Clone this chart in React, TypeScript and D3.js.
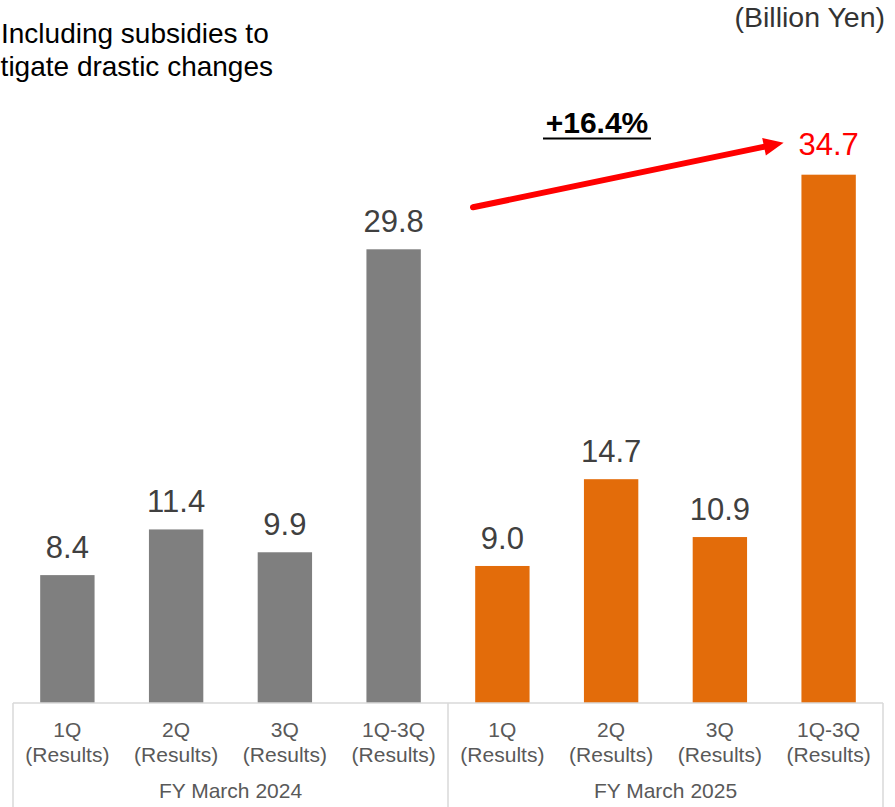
import React from "react";
import * as d3 from "d3";

// Quarterly results, billion yen
const fiscalYears = ["FY March 2024", "FY March 2025"];
const periods = ["1Q", "2Q", "3Q", "1Q-3Q"];
const values2024 = [8.4, 11.4, 9.9, 29.8];
const values2025 = [9.0, 14.7, 10.9, 34.7];
const growthLabel = "+16.4%";
const unitLabel = "(Billion Yen)";
const noteLines = ["Including subsidies to", "mitigate drastic changes"];

const W = 895;
const H = 807;
const FONT = "'Liberation Sans', Arial, Helvetica, sans-serif";

const GRAY = "#7f7f7f";
const ORANGE = "#e36c0a";
const AXIS = "#d9d9d9";

type Row = { key: string; year: string; period: string; value: number; color: string };

const rows: Row[] = [
  ...periods.map((p, i) => ({ key: `a${i}`, year: fiscalYears[0], period: p, value: values2024[i], color: GRAY })),
  ...periods.map((p, i) => ({ key: `b${i}`, year: fiscalYears[1], period: p, value: values2025[i], color: ORANGE })),
];

export default function App() {
  const left = 13;
  const right = 883;
  const baseY = 703;

  const x = d3
    .scaleBand<string>()
    .domain(rows.map((r) => r.key))
    .range([left, right])
    .paddingInner(0.5)
    .paddingOuter(0.25);

  const y = d3.scaleLinear().domain([0, 40]).range([baseY, 94]);

  const step = x.step();
  const groupW = step * periods.length;

  const last = rows[rows.length - 1];
  const lastTotal2024 = rows[periods.length - 1];

  // Growth arrow from the previous year's cumulative bar to this year's
  const ax0 = left + groupW + 25;
  const ay0 = y(lastTotal2024.value) - 42;
  const ax1 = (x(last.key) as number) + x.bandwidth() / 2 - 45;
  const ay1 = y(last.value) - 32;
  const ang = Math.atan2(ay1 - ay0, ax1 - ax0);
  const headLen = 20;
  const headHalf = 9;
  const bx = ax1 - headLen * Math.cos(ang);
  const by = ay1 - headLen * Math.sin(ang);
  const nx = -Math.sin(ang);
  const ny = Math.cos(ang);
  const head = `M${ax1},${ay1} L${bx + nx * headHalf},${by + ny * headHalf} L${bx - nx * headHalf},${by - ny * headHalf} Z`;

  return (
    <svg
      width={W}
      height={H}
      viewBox={`0 0 ${W} ${H}`}
      style={{ position: "absolute", left: 0, top: 0, background: "#fff" }}
      fontFamily={FONT}
    >
      {/* note, top left (runs past the left edge) */}
      <text x={1} y={43} fontSize={28} fill="#000">
        {noteLines[0]}
      </text>
      <text x={273} y={76} fontSize={28} fill="#000" textAnchor="end">
        {noteLines[1]}
      </text>

      {/* unit */}
      <text x={885} y={27} fontSize={28.5} fill="#333" textAnchor="end">
        {unitLabel}
      </text>

      {/* bars */}
      {rows.map((r) => (
        <rect
          key={r.key}
          x={x(r.key)}
          y={y(r.value)}
          width={x.bandwidth()}
          height={baseY - y(r.value)}
          fill={r.color}
        />
      ))}

      {/* value labels */}
      {rows.map((r, i) => {
        const isLast = i === rows.length - 1;
        return (
          <text
            key={`v${r.key}`}
            x={(x(r.key) as number) + x.bandwidth() / 2}
            y={y(r.value) - (isLast ? 20 : 17)}
            textAnchor="middle"
            fontSize={31}
            fill={isLast ? "#ff0000" : "#404040"}
          >
            {r.value.toFixed(1)}
          </text>
        );
      })}

      {/* category axis */}
      <line x1={left} x2={right} y1={baseY} y2={baseY} stroke={AXIS} strokeWidth={1.5} />
      {[0, 1, 2].map((g) => (
        <line
          key={`d${g}`}
          x1={left + g * groupW}
          x2={left + g * groupW}
          y1={baseY}
          y2={H}
          stroke={AXIS}
          strokeWidth={1.5}
        />
      ))}
      {rows.map((r) => {
        const cx = (x(r.key) as number) + x.bandwidth() / 2;
        return (
          <g key={`c${r.key}`} fill="#595959" fontSize={21} textAnchor="middle">
            <text x={cx} y={737}>
              {r.period}
            </text>
            <text x={cx} y={762}>
              (Results)
            </text>
          </g>
        );
      })}
      {fiscalYears.map((fy, g) => (
        <text
          key={fy}
          x={left + g * groupW + groupW / 2}
          y={798}
          textAnchor="middle"
          fontSize={21}
          fill="#595959"
        >
          {fy}
        </text>
      ))}

      {/* growth arrow */}
      <line
        x1={ax0}
        y1={ay0}
        x2={bx + 2 * Math.cos(ang)}
        y2={by + 2 * Math.sin(ang)}
        stroke="#ff0000"
        strokeWidth={6}
        strokeLinecap="round"
      />
      <path d={head} fill="#ff0000" />

      {/* growth rate */}
      <text x={597} y={133} textAnchor="middle" fontSize={30} fontWeight="bold" fill="#000">
        {growthLabel}
      </text>
      <line x1={543} x2={651} y1={138.5} y2={138.5} stroke="#000" strokeWidth={2} />
    </svg>
  );
}
